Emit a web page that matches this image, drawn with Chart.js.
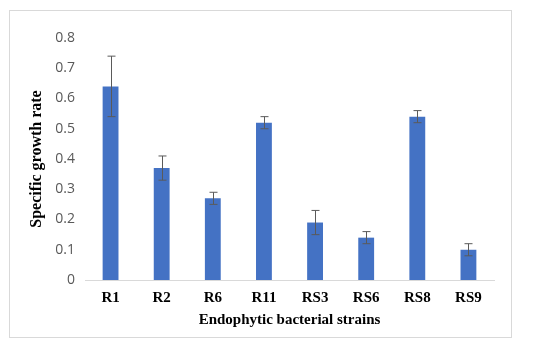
<!DOCTYPE html>
<html>
<head>
<meta charset="utf-8">
<script src="https://cdn.jsdelivr.net/npm/chart.js@4/dist/chart.umd.min.js"></script>
<style>
html,body{margin:0;padding:0;background:#fff;}
#wrap{position:relative;width:550px;height:349px;}
</style>
</head>
<body>
<div id="wrap"><canvas id="c" width="550" height="349"></canvas></div>
<script>
const categories = ['R1','R2','R6','R11','RS3','RS6','RS8','RS9'];
const growthRate = [0.64, 0.37, 0.27, 0.52, 0.19, 0.14, 0.54, 0.10];
const errorValues = [0.10, 0.04, 0.02, 0.02, 0.04, 0.02, 0.02, 0.02];
const yTicks = [0, 0.1, 0.2, 0.3, 0.4, 0.5, 0.6, 0.7, 0.8];

const framePlugin = {
  id: 'frame',
  beforeDraw(chart) {
    const ctx = chart.ctx;
    ctx.save();
    ctx.fillStyle = '#fff';
    ctx.fillRect(0, 0, chart.width, chart.height);
    ctx.strokeStyle = '#d9d9d9';
    ctx.lineWidth = 1;
    ctx.strokeRect(9.5, 10.5, 502, 327);
    ctx.restore();
  }
};

const errorBarPlugin = {
  id: 'errorBars',
  afterDatasetsDraw(chart) {
    const ctx = chart.ctx;
    const xs = chart.scales.x, ys = chart.scales.y;
    ctx.save();
    ctx.strokeStyle = '#5a5a5a';
    ctx.lineWidth = 1;
    growthRate.forEach((v, i) => {
      const x = Math.round(xs.getPixelForValue(i)) + 0.5;
      const yHi = ys.getPixelForValue(v + errorValues[i]);
      const yLo = ys.getPixelForValue(v - errorValues[i]);
      ctx.beginPath();
      ctx.moveTo(x, yHi); ctx.lineTo(x, yLo);
      ctx.moveTo(x - 4, yHi); ctx.lineTo(x + 4, yHi);
      ctx.moveTo(x - 4, yLo); ctx.lineTo(x + 4, yLo);
      ctx.stroke();
    });
    ctx.restore();
  }
};

new Chart(document.getElementById('c'), {
  type: 'bar',
  data: {
    labels: categories,
    datasets: [{
      data: growthRate,
      backgroundColor: '#4472C4',
      borderWidth: 0,
      barPercentage: 0.31,
      categoryPercentage: 1.0
    }]
  },
  options: {
    responsive: false,
    animation: false,
    devicePixelRatio: 1,
    layout: { padding: { left: 0, right: 56, top: 38, bottom: 0 } },
    plugins: { legend: { display: false }, tooltip: { enabled: false } },
    scales: {
      x: {
        grid: { display: false, drawTicks: false },
        border: { display: true, color: '#d9d9d9', width: 1 },
        ticks: {
          color: '#000',
          padding: 9,
          font: { family: 'Liberation Serif', size: 15, weight: 'bold' }
        },
        title: {
          display: true,
          text: 'Endophytic bacterial strains',
          color: '#000',
          padding: { top: 0, bottom: 20 },
          font: { family: 'Liberation Serif', size: 15, weight: 'bold' }
        },
        afterFit(s) { s.height = 69; }
      },
      y: {
        min: 0, max: 0.8,
        afterBuildTicks(s) { s.ticks = yTicks.map(v => ({ value: v })); },
        grid: { display: false, drawTicks: false },
        border: { display: false },
        ticks: {
          color: '#595959',
          padding: 10,
          font: { family: 'Open Sans', size: 14 },
          callback: v => String(Math.round(v * 10) / 10)
        },
        title: {
          display: true,
          text: 'Specific growth rate',
          color: '#000',
          padding: { top: 27, bottom: 0 },
          font: { family: 'Liberation Serif', size: 16, weight: 'bold' }
        },
        afterFit(s) { s.width = 85; }
      }
    }
  },
  plugins: [framePlugin, errorBarPlugin]
});
</script>
</body>
</html>
